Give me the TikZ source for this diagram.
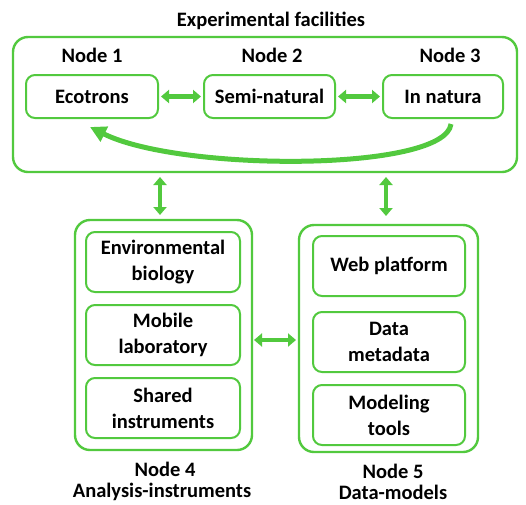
\documentclass[tikz,border=0pt]{standalone}
\usepackage{fontspec}
\setmainfont{Carlito}
\usetikzlibrary{arrows.meta}
\definecolor{gr}{RGB}{82,201,62}
\tikzset{
  x=1pt,y=-1pt,
  every node/.style={font=\bfseries\fontsize{20.5}{26}\selectfont, text=black},
  outerbox/.style={draw=gr, line width=2.4pt, rounded corners=15pt},
  innerbox/.style={draw=gr, line width=2pt, rounded corners=9pt, align=center, inner sep=0pt},
  dblarrow/.style={draw=gr, line width=4.5pt, {Triangle[width=13pt,length=8pt]}-{Triangle[width=13pt,length=8pt]}},
  lbl/.style={align=center, inner sep=0pt}
}
\begin{document}
\begin{tikzpicture}
\useasboundingbox (0,0) rectangle (526,504);
% top group
\node[lbl] (title) at (271,21) {Experimental facilities};
\draw[outerbox] (13,37) rectangle (517,172);
\node[lbl] (n1) at (92,55) {Node 1};
\node[lbl] (n2) at (272,55) {Node 2};
\node[lbl] (n3) at (450,55) {Node 3};
\node[innerbox, minimum width=132pt, minimum height=43pt] (eco) at (92,96.5) {Ecotrons};
\node[innerbox, minimum width=131pt, minimum height=43pt] (semi) at (269.5,96.5) {Semi-natural};
\node[innerbox, minimum width=120pt, minimum height=43pt] (nat) at (443,96.5) {In natura};
\draw[dblarrow, shorten <=2pt, shorten >=2pt] (eco) -- (semi);
\draw[dblarrow, shorten <=2pt, shorten >=2pt] (semi) -- (nat);
\coordinate (cs) at (451,124);
\coordinate (ce) at (90,127);
\draw[gr, line width=5pt, -{Triangle[width=16pt,length=16pt]}] (cs) .. controls (445,172) and (180,172) .. (ce);
% lower groups
\draw[outerbox] (75,220) rectangle (252,450);
\node[innerbox, minimum width=154pt, minimum height=60pt] (env) at (163,262) {Environmental\\biology};
\node[innerbox, minimum width=154pt, minimum height=60pt] (mob) at (163,335) {Mobile\\laboratory};
\node[innerbox, minimum width=154pt, minimum height=60pt] (sha) at (163,408) {Shared\\instruments};
\node[lbl] (n4) at (165,469) {Node 4};
\node[lbl] (n4b) at (162,492) {Analysis-instruments};
\draw[outerbox] (299,225) rectangle (478,452);
\node[innerbox, minimum width=152pt, minimum height=60pt] (web) at (389,266) {Web platform};
\node[innerbox, minimum width=152pt, minimum height=60pt] (dat) at (389,342) {Data\\metadata};
\node[innerbox, minimum width=152pt, minimum height=60pt] (mod) at (389,415) {Modeling\\tools};
\node[lbl] (n5) at (393,471) {Node 5};
\node[lbl] (n5b) at (393,492) {Data-models};
% connectors between groups
\coordinate (v1a) at (160,177);
\coordinate (v1b) at (160,215);
\coordinate (v2a) at (386,177);
\coordinate (v2b) at (386,216);
\coordinate (h1a) at (254,340);
\coordinate (h1b) at (296,340);
\draw[dblarrow] (v1a) -- (v1b);
\draw[dblarrow] (v2a) -- (v2b);
\draw[dblarrow] (h1a) -- (h1b);
\end{tikzpicture}
\end{document}
